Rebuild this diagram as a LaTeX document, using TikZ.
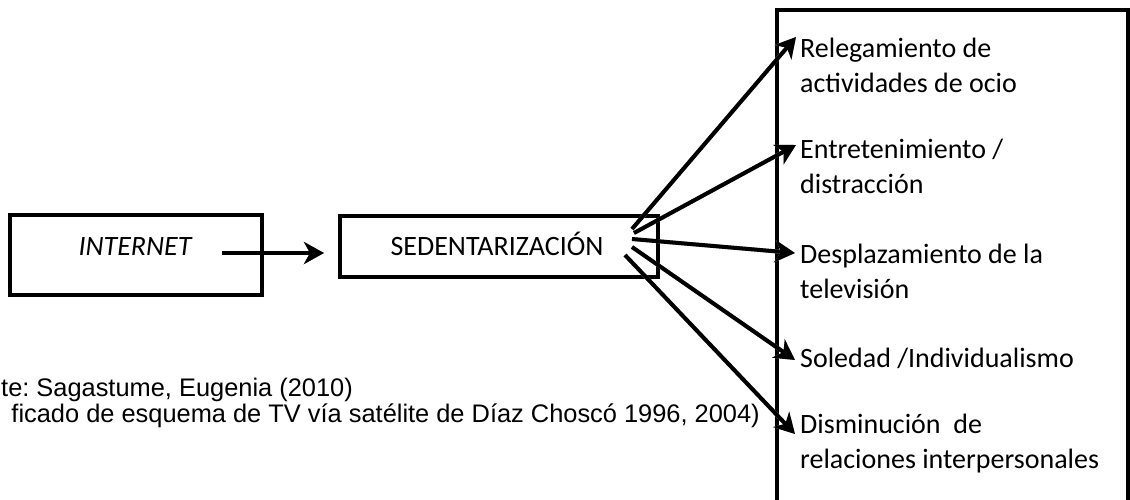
\documentclass[tikz,border=0pt]{standalone}
\usepackage{fontspec}
\setmainfont{Carlito}
\newfontfamily\capfont{Liberation Sans}
\usetikzlibrary{arrows.meta}
\frenchspacing
\tikzset{
  x=1pt, y=-1pt,
  boxline/.style={draw=black, line width=4pt},
  conn/.style={line width=4pt, -{Stealth[length=20pt,width=22pt,inset=6pt]}},
  shadowline/.style={conn, draw=gray!65, color=gray!65, shift={(2.5,2.5)}},
  lbl/.style={inner sep=0pt, font=\fontsize{28}{35}\selectfont},
  itemtext/.style={lbl, anchor=base west, align=left},
  captext/.style={inner sep=0pt, font=\capfont\fontsize{25.4}{25}\selectfont},
}
\begin{document}
\begin{tikzpicture}
\useasboundingbox (0,0) rectangle (1130,499);
% boxes
\node[boxline, minimum width=252pt, minimum height=80pt, inner sep=0pt] (inet) at (136,255) {};
\node[lbl, anchor=base] (inettext) at (135,255) {\itshape INTERNET};
\node[boxline, minimum width=318pt, minimum height=61pt, inner sep=0pt] (sed) at (499,246.5) {};
\node[lbl, anchor=base] (sedtext) at (497,255) {SEDENTARIZACIÓN};
\draw[boxline] (777,520) -- (777,10) -- (1128,10) -- (1128,520);
% items (base anchor = baseline of last line)
\node[itemtext] (i1) at (800,92) {Relegamiento de\\actividades de ocio};
\node[itemtext] (i2) at (800,193) {Entretenimiento /\\distracción};
\node[itemtext] (i3) at (800,298) {Desplazamiento de la\\televisión};
\node[itemtext] (i4) at (800,367) {Soledad /Individualismo};
\node[itemtext] (i5) at (800,468) {Disminución\ \ de\\relaciones interpersonales};
% caption
\node[captext, anchor=base west] (c1) at (1,396) {te: Sagastume, Eugenia (2010)};
\node[captext, anchor=base east] (c2) at (760,422) {ficado de esquema de TV vía satélite de Díaz Choscó 1996, 2004)};
% connector endpoints
\coordinate (s0) at (222,253); \coordinate (t0) at (324,253);
\coordinate (s1) at (632,229); \coordinate (t1) at (796,37);
\coordinate (s2) at (634,233); \coordinate (t2) at (796,145);
\coordinate (s3) at (632,239); \coordinate (t3) at (795,253);
\coordinate (s4) at (632,247); \coordinate (t4) at (795,360);
\coordinate (s5) at (625,255); \coordinate (t5) at (795,434);
% shadows
\foreach \i in {0,...,5} { \draw[shadowline] (s\i) -- (t\i); }
% arrows
\foreach \i in {0,...,5} { \draw[conn] (s\i) -- (t\i); }
\end{tikzpicture}
\end{document}
